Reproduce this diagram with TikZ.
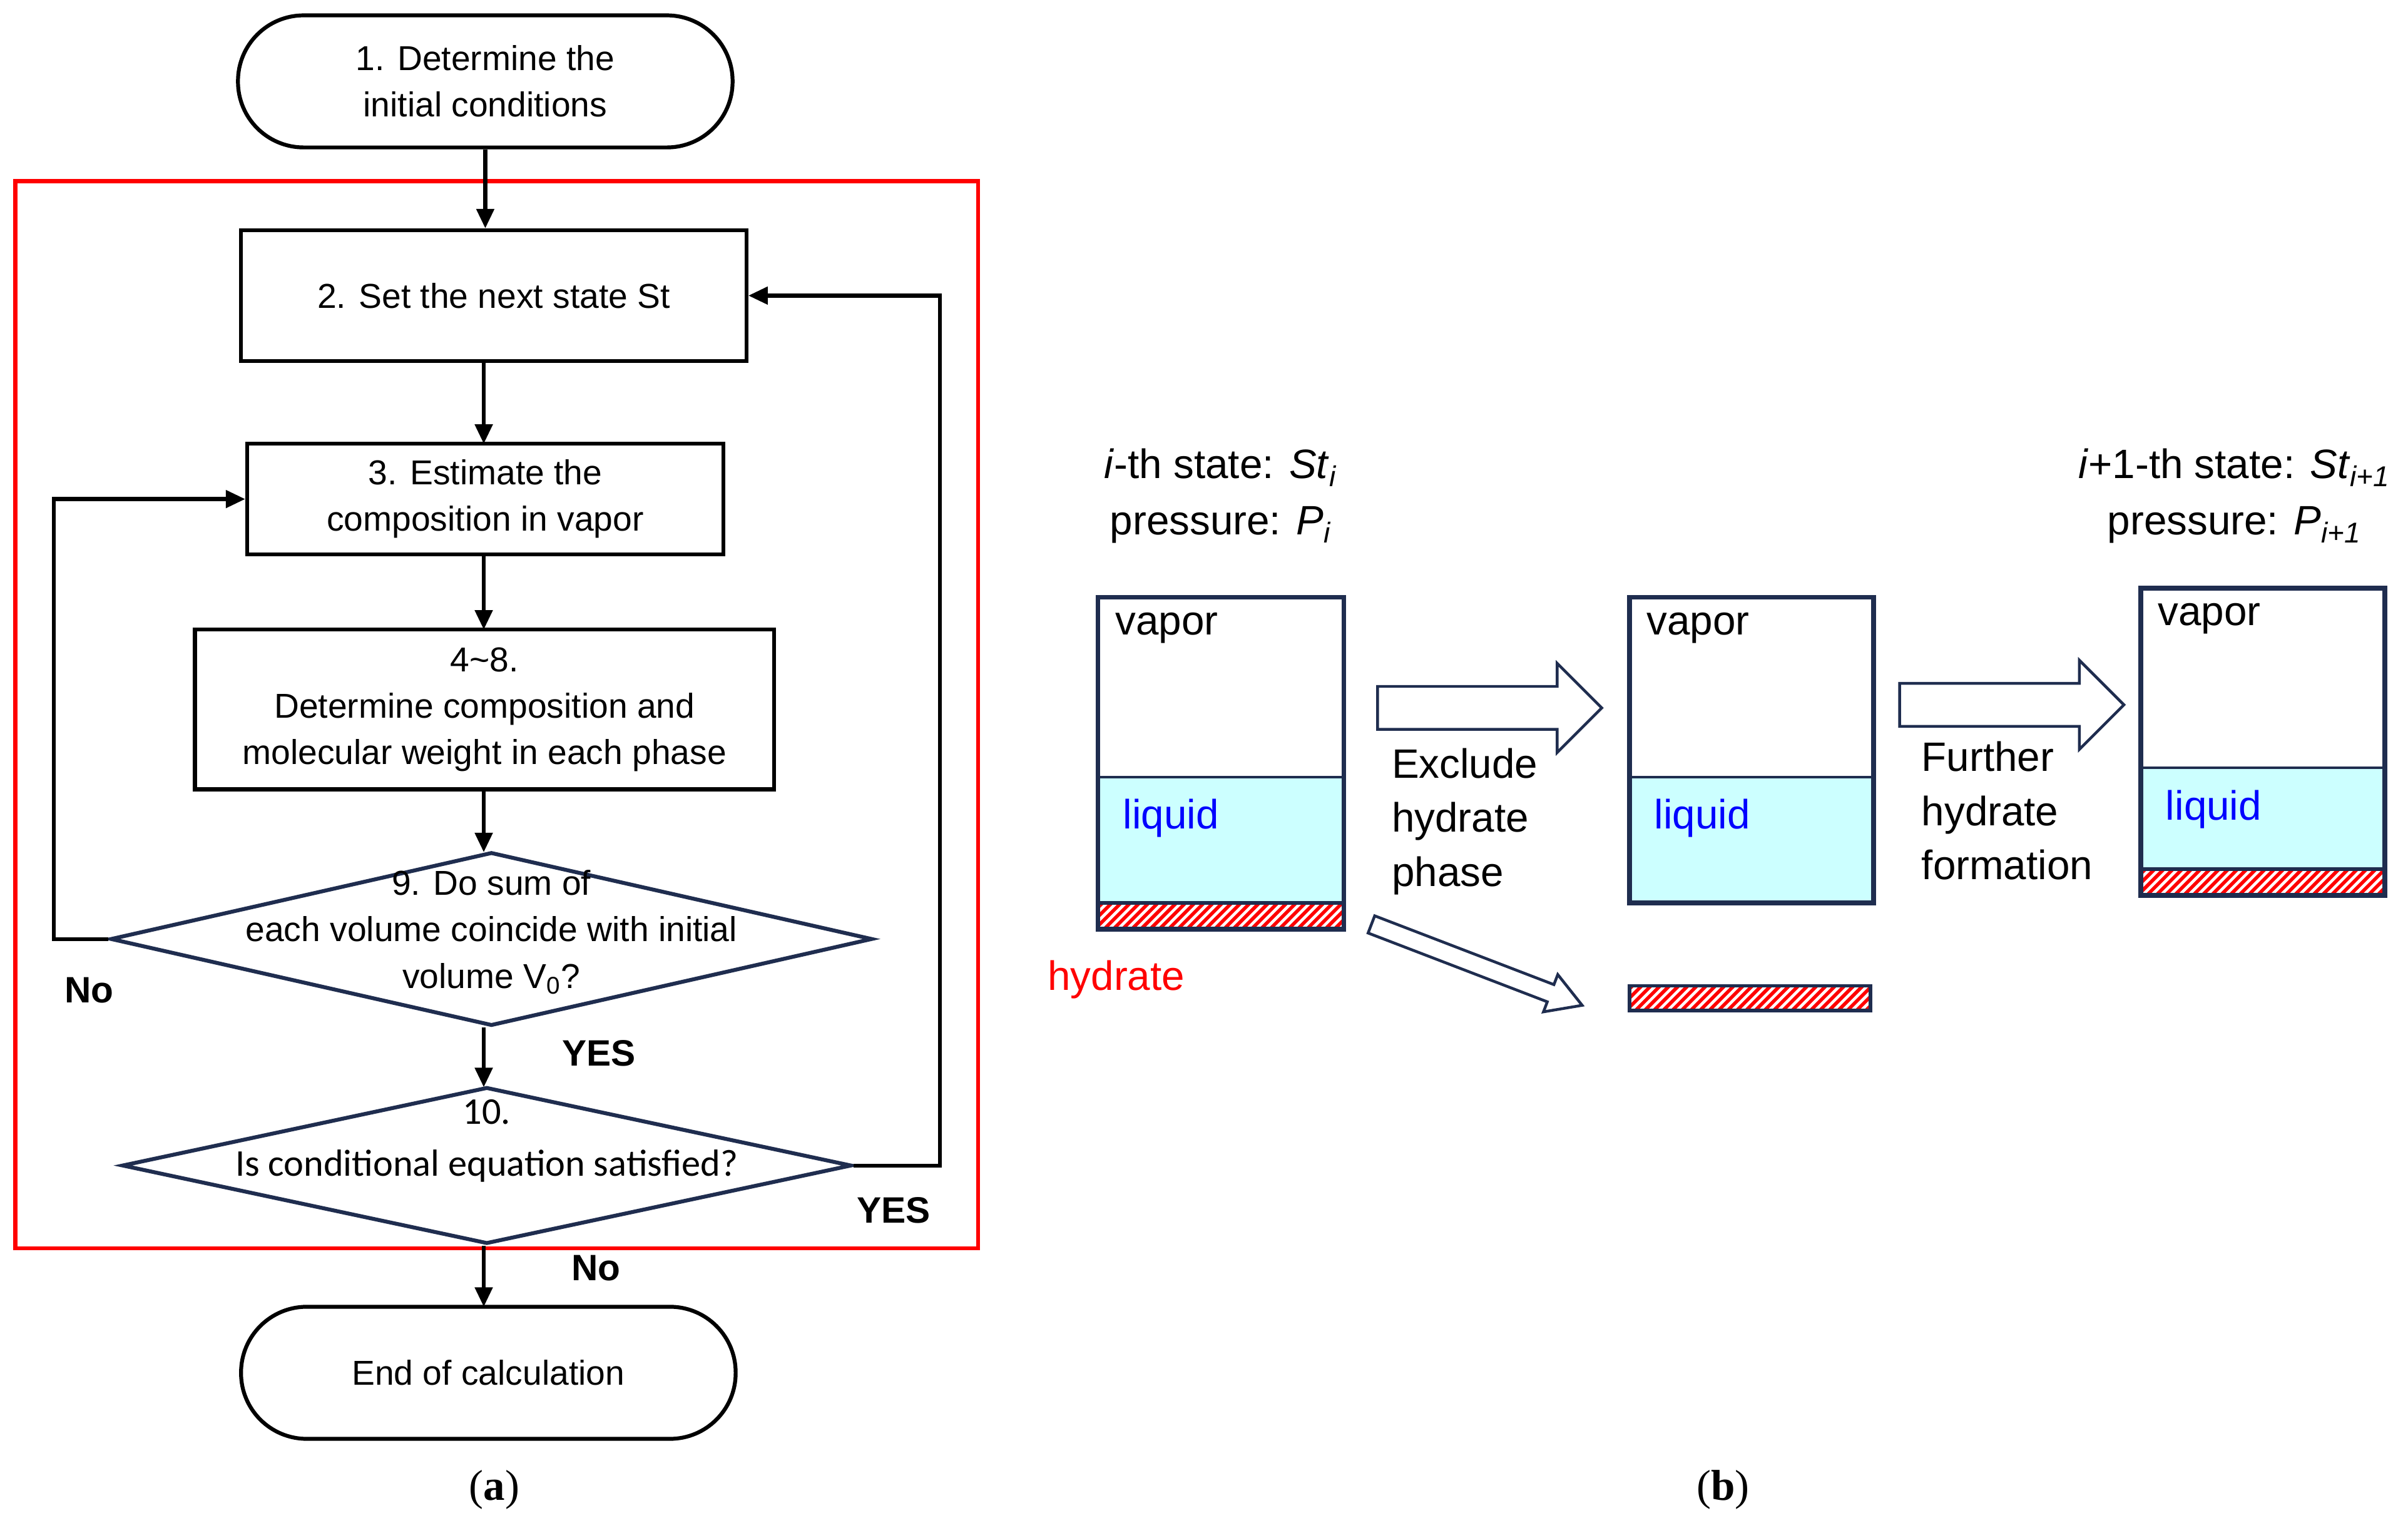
\documentclass[tikz,border=0pt]{standalone}
\usepackage{fontspec}
\setmainfont{Liberation Sans}
\newfontfamily\myCal{Carlito}
\newfontfamily\mySer{Liberation Serif}
\usetikzlibrary{shapes.geometric,arrows.meta,calc}
\definecolor{navy}{HTML}{1F2D4F}
\definecolor{liq}{HTML}{CCFFFF}
\begin{document}
\begin{tikzpicture}[x=0.025cm,y=-0.025cm,
  fc/.style={draw=black,line width=1.8pt,align=center,font=\fontsize{16}{21.5}\selectfont,inner sep=0pt},
  box/.style={fc,rectangle},
  term/.style={fc,rounded corners=1.07cm,minimum width=8.05cm,minimum height=2.15cm},
  dia/.style={draw=navy,line width=1.8pt,diamond,inner sep=0pt},
  ar/.style={line width=1.8pt,-{Triangle[length=9pt,width=8pt]}},
  lab/.style={font=\bfseries\fontsize{17}{20}\selectfont},
  rt/.style={font=\fontsize{19}{25}\selectfont,anchor=west,inner sep=0pt},
  cont/.style={draw=navy,line width=2.2pt},
  hol/.style={draw=navy,line width=1.3pt,fill=white}]
\useasboundingbox (0,0) rectangle (1568,995);
\fill[white] (0,0) rectangle (1568,995);
% red frame
\draw[red,line width=1.8pt] (10,118) rectangle (637,813);
\node[term] (t1) at (316,53) {1. Determine the\\initial conditions};
\node[box,minimum width=8.225cm,minimum height=2.125cm] (b2) at (321.5,192.5) {2. Set the next state St};
\node[box,minimum width=7.75cm,minimum height=1.8cm] (b3) at (316,325) {3. Estimate the\\composition in vapor};
\node[box,minimum width=9.425cm,minimum height=2.6cm] (b4) at (315.5,462) {4\textasciitilde 8.\\Determine composition and\\molecular weight in each phase};
\node[dia,minimum width=12.4cm,minimum height=2.825cm] (d9) at (320,611.5) {};
\node[align=center,font=\fontsize{16}{21.5}\selectfont] (t9) at (320,607) {9. Do sum of\\each volume coincide with initial\\volume V\textsubscript{0}?};
\node[dia,minimum width=11.875cm,minimum height=2.55cm] (d10) at (317,759) {};
\node[align=center,font=\myCal\fontsize{17.5}{24}\selectfont] (t10) at (317,743) {10.\\Is conditional equation satisfied?};
\node[term] (t2) at (318,894) {End of calculation};
\draw[ar] (t1.south) -- (t1.south |- b2.north);
\draw[ar] (b2.south -| 315,0) -- (315,289);
\draw[ar] (b3.south -| 315,0) -- (315,410);
\draw[ar] (b4.south -| 315,0) -- (315,555);
\draw[ar] (d9.south -| 315,0) -- (315,708);
\draw[ar] (d10.south -| 315,0) -- (315,851);
\coordinate (l1) at (35,0);
\coordinate (l2) at (612,0);
\draw[ar] (d9.west) -- (d9.west -| l1) |- (b3.west);
\draw[ar] (d10.east) -- (d10.east -| l2) |- (b2.east);
\node[lab] (n1) at (58,645) {No};
\node[lab] (y1) at (390,686) {YES};
\node[lab] (y2) at (582,788) {YES};
\node[lab] (n2) at (388,826) {No};
\node[font=\mySer\fontsize{20}{24}\selectfont] (ca) at (322,970) {(\textbf{a})};
\node[font=\mySer\fontsize{20}{24}\selectfont] (cb) at (1122,970) {(\textbf{b})};
% right panel
\node[align=center,font=\fontsize{19}{26}\selectfont] (s1) at (795,323) {\textit{i}-th state: \textit{St}\textsubscript{\textit{i}}\\pressure: \textit{P}\textsubscript{\textit{i}}};
\node[align=center,font=\fontsize{19}{26}\selectfont] (s3) at (1455,323) {\textit{i}+1-th state: \textit{St}\textsubscript{\textit{i+1}}\\pressure: \textit{P}\textsubscript{\textit{i+1}}};
\newcommand\hatchstrip[4]{%
  \begin{scope}
  \clip (#1,#2) rectangle (#3,#4);
  \fill[white] (#1,#2) rectangle (#3,#4);
  \foreach \k in {0,6,...,200}{\draw[red,line width=1.6pt] ({#1+\k-20},#4) -- ++(20,-20);}
  \end{scope}
  \draw[navy,line width=1.6pt] (#1,#2) rectangle (#3,#4);}
% container 1
\fill[liq] (715,506) rectangle (875,588);
\draw[navy,line width=1.3pt] (715,506) -- (875,506);
\hatchstrip{715}{588}{875}{605}
\draw[cont] (715,389) rectangle (875,605);
\node[rt] (v1) at (726,409) {vapor};
\node[rt,text=blue] (q1) at (731,533) {liquid};
\node[rt,text=red] (h1) at (682,638) {hydrate};
% container 2
\fill[liq] (1061,506) rectangle (1220,588);
\draw[navy,line width=1.3pt] (1061,506) -- (1220,506);
\draw[cont] (1061,389) rectangle (1220,588);
\node[rt] (v2) at (1072,409) {vapor};
\node[rt,text=blue] (q2) at (1077,533) {liquid};
\hatchstrip{1061}{642}{1218}{658}
% container 3
\fill[liq] (1394,500) rectangle (1553,566);
\draw[navy,line width=1.3pt] (1394,500) -- (1553,500);
\hatchstrip{1394}{566}{1553}{583}
\draw[cont] (1394,383) rectangle (1553,583);
\node[rt] (v3) at (1405,403) {vapor};
\node[rt,text=blue] (q3) at (1410,527) {liquid};
% block arrows
\draw[hol] (897,447) -- (1014,447) -- (1014,432) -- (1043,461) -- (1014,490) -- (1014,475) -- (897,475) -- cycle;
\draw[hol] (1237,445) -- (1354,445) -- (1354,430) -- (1383,459) -- (1354,488) -- (1354,473) -- (1237,473) -- cycle;
\begin{scope}[shift={(893,602)},rotate=-21]
\draw[hol] (0,-6) -- (125,-6) -- (125,-13) -- (147,0) -- (125,13) -- (125,6) -- (0,6) -- cycle;
\end{scope}
\node[rt,align=left] (e1) at (906,535) {Exclude\\hydrate\\phase};
\node[rt,align=left] (e2) at (1251,528) {Further\\hydrate\\formation};
\end{tikzpicture}
\end{document}
